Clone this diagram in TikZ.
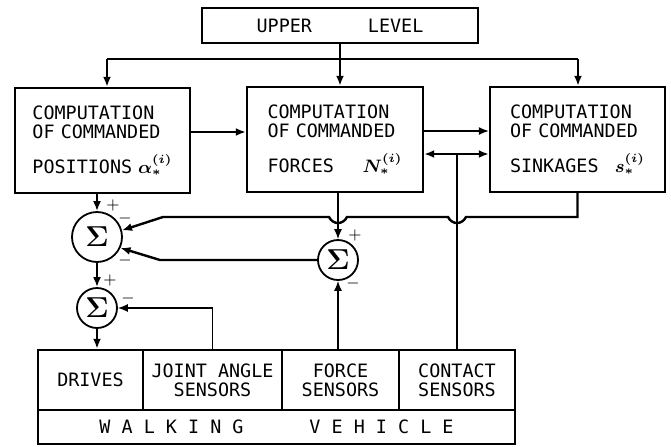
\documentclass[tikz,border=0pt]{standalone}
\usepackage{amsmath, amssymb}
\usepackage[no-math]{fontspec}
\setmonofont{DejaVu Sans Mono}
\usetikzlibrary{arrows.meta}

\begin{document}
\begin{tikzpicture}[x=0.5pt, y=-0.5pt,
    every node/.style={font=\ttfamily\fontsize{9.2}{9.5}\selectfont},
    block/.style={draw, line width=1.2pt, inner sep=0pt, align=center},
    compbox/.style={block, minimum width=87.5pt, minimum height=52.5pt, text width=67.5pt, align=left},
    summer/.style={circle, draw, line width=0.9pt, inner sep=0pt, font=\fontsize{14}{14}\selectfont},
    sign/.style={inner sep=0pt, font=\fontsize{8}{8}\selectfont},
    thickline/.style={line width=1.2pt, -{Latex[length=5pt,width=4pt]}},
    thinline/.style={line width=0.7pt, -{Latex[length=5pt,width=4pt]}}]
    \useasboundingbox (0,0) rectangle (671,446);
    % Upper level
    \node[block, minimum width=138pt, minimum height=17.5pt] (upper) at (340,25.5) {UPPER\hspace{28pt}LEVEL};
    % Computation blocks
    \node[compbox, text width=70pt] (posbox) at (102.5,140.5) {COMPUTATION\\OF COMMANDED\\[8pt]POSITIONS\hspace{2pt plus 1filll}$\boldsymbol{\alpha_*^{(i)}}$};
    \node[compbox, minimum width=88pt] (forbox) at (335,139.5) {COMPUTATION\\OF COMMANDED\\[8pt]FORCES\hspace{0pt plus 1filll}$\boldsymbol{N_*^{(i)}}$\hspace*{3pt}};
    \node[compbox] (sinbox) at (577.5,139.5) {COMPUTATION\\OF COMMANDED\\[8pt]SINKAGES\hspace{0pt plus 1filll}$\boldsymbol{s_*^{(i)}}$};
    % Summing points
    \node[summer, minimum size=25pt] (sumA) at (97,237) {$\boldsymbol{\Sigma}$};
    \node[summer, minimum size=20pt] (sumB) at (97,308) {$\boldsymbol{\Sigma}$};
    \node[summer, minimum size=20pt] (sumC) at (338,260) {$\boldsymbol{\Sigma}$};
    % Signs
    \node[sign] (sAtop) at (113,205) {$+$};
    \node[sign] (sAup) at (125,218) {$-$};
    \node[sign] (sAlow) at (125,260) {$-$};
    \node[sign] (sBtop) at (110,280) {$+$};
    \node[sign] (sBright) at (128,298) {$-$};
    \node[sign] (sCtop) at (355,235) {$+$};
    \node[sign] (sCbot) at (353,283) {$-$};
    % Walking vehicle
    \node[block, minimum width=52.5pt, minimum height=30pt] (drives) at (90.5,380) {DRIVES};
    \node[block, minimum width=69.5pt, minimum height=30pt] (joint) at (212.5,380) {JOINT ANGLE\\SENSORS};
    \node[block, minimum width=58.5pt, minimum height=30pt] (forcesens) at (340.5,380) {FORCE\\SENSORS};
    \node[block, minimum width=58pt, minimum height=30pt] (contact) at (457,380) {CONTACT\\SENSORS};
    \node[block, minimum width=238.5pt, minimum height=17pt] (vehicle) at (276.5,427) {W A L K I N G\hspace{33pt}V E H I C L E};
    % Upper level to the blocks
    \coordinate (busL) at (107,59);
    \coordinate (busR) at (578,59);
    \draw[line width=1.2pt] (busL) -- (busR);
    \draw[thickline] (upper.south) -- (upper.south |- forbox.north);
    \draw[thickline] (busL) -- (busL |- posbox.north);
    \draw[thickline] (busR) -- (busR |- sinbox.north);
    % Between the blocks
    \draw[thickline] ([yshift=4.25pt]posbox.east) -- ([yshift=4.25pt]posbox.east -| forbox.west);
    \draw[thinline] ([yshift=4.25pt]forbox.east) -- ([yshift=4.25pt]forbox.east -| sinbox.west);
    % Contact sensors
    \coordinate (cjoin) at (457,154);
    \draw[line width=0.8pt] (contact.north) -- (cjoin);
    \draw[thickline] (cjoin) -- (cjoin -| forbox.east);
    \draw[thickline] (cjoin) -- (cjoin -| sinbox.west);
    % Feedback lines
    \coordinate (sinkdrop) at (sinbox.south |- 0,217);
    \draw[thickline] (sinbox.south) -- (sinkdrop) -- (466,217)
        .. controls (462,225) and (452,225) .. (448,217) -- (347,217)
        .. controls (343,225) and (333,225) .. (329,217) -- (163,217) -- (sumA.15);
    \draw[thickline] (sumC.west) -- (160,260) -- (sumA.-25);
    \draw[thinline] (sumC |- forbox.south) -- (sumC.north);
    \draw[thinline] (sumC.south |- forcesens.north) -- (sumC.south);
    % Position loop
    \draw[thickline] (posbox.south -| sumA) -- (sumA.north);
    \draw[thickline] (sumA.south) -- (sumB.north);
    \draw[thickline] (sumB.south) -- (sumB.south |- drives.north);
    \draw[thinline] (joint.north) |- (sumB.east);
\end{tikzpicture}
\end{document}
